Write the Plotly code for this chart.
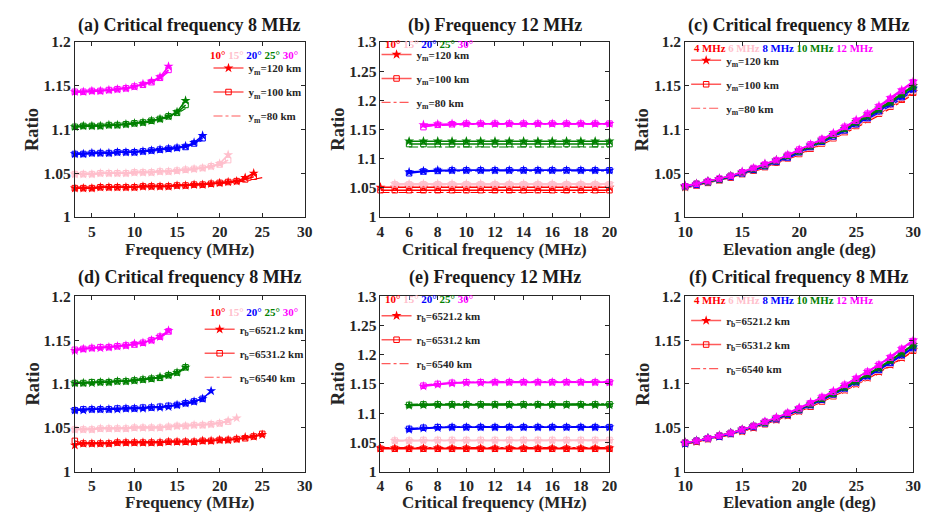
import plotly.graph_objects as go

# ---------------- data ----------------
FREQ = [3, 4, 5, 6, 7, 8, 9, 10, 11, 12, 13, 14, 15, 16, 17, 18, 19, 20, 21, 22, 23, 24, 25]
CRIT = [4, 5, 6, 7, 8, 9, 10, 11, 12, 13, 14, 15, 16, 17, 18, 19, 20]
ELEV = [10, 11, 12, 13, 14, 15, 16, 17, 18, 19, 20, 21, 22, 23, 24, 25, 26, 27, 28, 29, 30]

ANGLE_LABELS = ["10°", "15°", "20°", "25°", "30°"]
FREQ_LABELS = ["4 MHz", "6 MHz", "8 MHz", "10 MHz", "12 MHz"]
YM_LABELS = ["y<sub>m</sub>=120 km", "y<sub>m</sub>=100 km", "y<sub>m</sub>=80 km"]
RB_LABELS = ["r<sub>b</sub>=6521.2 km", "r<sub>b</sub>=6531.2 km", "r<sub>b</sub>=6540 km"]
TITLES = ["(a) Critical frequency 8 MHz", "(b) Frequency 12 MHz", "(c) Critical frequency 8 MHz",
          "(d) Critical frequency 8 MHz", "(e) Frequency 12 MHz", "(f) Critical frequency 8 MHz"]
XTITLES = ["Frequency (MHz)", "Critical frequency (MHz)", "Elevation angle (deg)"]

# panel (a): ratio vs frequency, start frequency 3 MHz
a10_120 = [1.033,1.033,1.033,1.034,1.034,1.034,1.034,1.034,1.035,1.035,1.035,1.035,1.036,1.036,1.037,1.037,1.038,1.039,1.040,1.041,1.045,1.050]
a10_100 = [1.033,1.033,1.033,1.034,1.034,1.034,1.034,1.034,1.035,1.035,1.035,1.035,1.036,1.036,1.037,1.037,1.038,1.039,1.040,1.041,1.043,1.046]
a10_80 = [1.033,1.033,1.033,1.033,1.034,1.034,1.034,1.034,1.034,1.035,1.035,1.035,1.036,1.036,1.036,1.037,1.038,1.038,1.039,1.040,1.041,1.043,1.045]
a15_120 = [1.049,1.049,1.049,1.050,1.050,1.050,1.050,1.051,1.051,1.051,1.052,1.052,1.053,1.054,1.055,1.056,1.058,1.061,1.071]
a15_100 = [1.049,1.049,1.049,1.050,1.050,1.050,1.050,1.051,1.051,1.051,1.052,1.052,1.053,1.054,1.055,1.056,1.058,1.060,1.065]
a15_80 = [1.049,1.049,1.049,1.049,1.050,1.050,1.050,1.050,1.051,1.051,1.051,1.052,1.053,1.053,1.054,1.056,1.057,1.059,1.063]
a20_120 = [1.072,1.072,1.073,1.073,1.073,1.074,1.074,1.074,1.075,1.076,1.077,1.078,1.079,1.081,1.085,1.093]
a20_100 = [1.072,1.072,1.073,1.073,1.073,1.074,1.074,1.074,1.075,1.076,1.077,1.078,1.079,1.080,1.084,1.090]
a20_80 = [1.072,1.072,1.072,1.073,1.073,1.073,1.074,1.074,1.075,1.075,1.076,1.077,1.078,1.080,1.083,1.088]
a25_120 = [1.103,1.104,1.104,1.104,1.105,1.105,1.106,1.107,1.108,1.110,1.112,1.115,1.120,1.133]
a25_100 = [1.103,1.104,1.104,1.104,1.105,1.105,1.106,1.107,1.108,1.110,1.112,1.115,1.119,1.128]
a25_80 = [1.103,1.103,1.104,1.104,1.104,1.105,1.106,1.106,1.107,1.109,1.111,1.114,1.118,1.124]
a30_120 = [1.143,1.143,1.144,1.144,1.145,1.146,1.147,1.149,1.152,1.155,1.160,1.172]
a30_100 = [1.143,1.143,1.144,1.144,1.145,1.146,1.147,1.149,1.151,1.154,1.159,1.168]
a30_80 = [1.142,1.143,1.143,1.144,1.145,1.145,1.147,1.148,1.151,1.154,1.158,1.166]

# panel (b): ratio vs critical frequency (starts 4, 5, 6, 6, 7 MHz)
b10_120 = [1.051,1.051,1.051,1.051,1.051,1.051,1.051,1.051,1.051,1.051,1.051,1.051,1.051,1.051,1.051,1.051,1.051]
b10_100 = [1.046,1.046,1.046,1.046,1.046,1.046,1.046,1.046,1.046,1.046,1.046,1.046,1.046,1.046,1.046,1.046,1.046]
b10_80 = [1.042,1.042,1.042,1.042,1.042,1.042,1.042,1.042,1.042,1.042,1.042,1.042,1.042,1.042,1.042,1.042,1.042]
b15_120 = [1.057,1.057,1.057,1.057,1.057,1.057,1.057,1.057,1.057,1.057,1.057,1.057,1.057,1.057,1.057,1.057]
b15_100 = [1.056,1.056,1.056,1.056,1.056,1.056,1.056,1.056,1.056,1.056,1.056,1.056,1.056,1.056,1.056,1.056]
b15_80 = [1.055,1.055,1.055,1.055,1.055,1.055,1.055,1.055,1.055,1.055,1.055,1.055,1.055,1.055,1.055,1.055]
b20_120 = [1.077,1.079,1.080,1.080,1.080,1.080,1.080,1.080,1.080,1.080,1.080,1.080,1.080,1.080,1.080]
b20_100 = [1.075,1.078,1.079,1.080,1.080,1.080,1.080,1.080,1.080,1.080,1.080,1.080,1.080,1.080,1.080]
b20_80 = [1.076,1.078,1.079,1.079,1.079,1.079,1.079,1.079,1.079,1.079,1.079,1.079,1.079,1.079,1.079]
b25_120 = [1.130,1.130,1.130,1.130,1.130,1.130,1.130,1.130,1.130,1.130,1.130,1.130,1.130,1.130,1.130]
b25_100 = [1.125,1.125,1.125,1.125,1.125,1.125,1.125,1.125,1.125,1.125,1.125,1.125,1.125,1.125,1.125]
b25_80 = [1.120,1.120,1.120,1.120,1.120,1.120,1.120,1.120,1.120,1.120,1.120,1.120,1.120,1.120,1.120]
b30_120 = [1.158,1.159,1.160,1.160,1.160,1.160,1.160,1.160,1.160,1.160,1.160,1.160,1.160,1.160]
b30_100 = [1.154,1.158,1.159,1.160,1.160,1.160,1.160,1.160,1.160,1.160,1.160,1.160,1.160,1.160]
b30_80 = [1.156,1.157,1.158,1.159,1.159,1.159,1.159,1.159,1.159,1.159,1.159,1.159,1.159,1.159]

# panel (c): ratio vs elevation angle for five frequencies
c4_120 = [1.034,1.037,1.040,1.043,1.046,1.050,1.054,1.058,1.063,1.068,1.073,1.079,1.085,1.091,1.098,1.105,1.112,1.119,1.127,1.135,1.143]
c4_100 = [1.034,1.036,1.039,1.042,1.045,1.049,1.053,1.057,1.062,1.067,1.072,1.078,1.084,1.090,1.097,1.104,1.111,1.118,1.126,1.134,1.142]
c4_80 = [1.033,1.036,1.039,1.042,1.045,1.048,1.052,1.056,1.061,1.066,1.071,1.077,1.083,1.089,1.096,1.102,1.109,1.116,1.124,1.132,1.140]
c6_120 = [1.035,1.037,1.040,1.043,1.046,1.050,1.054,1.059,1.063,1.068,1.074,1.080,1.086,1.092,1.099,1.106,1.113,1.120,1.128,1.137,1.145]
c6_100 = [1.034,1.037,1.040,1.043,1.046,1.050,1.054,1.058,1.063,1.068,1.073,1.079,1.085,1.091,1.098,1.105,1.112,1.119,1.127,1.136,1.144]
c6_80 = [1.034,1.036,1.039,1.042,1.045,1.049,1.053,1.057,1.062,1.067,1.072,1.078,1.084,1.090,1.097,1.104,1.111,1.118,1.126,1.134,1.142]
c8_120 = [1.035,1.037,1.040,1.043,1.046,1.050,1.054,1.059,1.064,1.069,1.075,1.081,1.087,1.093,1.100,1.107,1.114,1.122,1.130,1.138,1.147]
c8_100 = [1.035,1.037,1.040,1.043,1.046,1.050,1.054,1.058,1.063,1.068,1.074,1.080,1.086,1.092,1.099,1.106,1.113,1.121,1.129,1.137,1.146]
c8_80 = [1.034,1.037,1.040,1.042,1.046,1.049,1.053,1.058,1.062,1.067,1.073,1.079,1.085,1.091,1.098,1.105,1.112,1.119,1.127,1.135,1.144]
c10_120 = [1.035,1.038,1.041,1.044,1.047,1.051,1.055,1.060,1.065,1.070,1.076,1.082,1.088,1.094,1.101,1.109,1.116,1.124,1.132,1.141,1.150]
c10_100 = [1.035,1.038,1.040,1.043,1.047,1.051,1.055,1.059,1.064,1.070,1.075,1.081,1.087,1.094,1.101,1.108,1.115,1.123,1.131,1.140,1.149]
c10_80 = [1.035,1.037,1.040,1.043,1.046,1.050,1.054,1.059,1.064,1.069,1.075,1.080,1.086,1.093,1.100,1.107,1.114,1.122,1.130,1.139,1.147]
c12_120 = [1.036,1.038,1.041,1.044,1.047,1.052,1.056,1.061,1.065,1.071,1.077,1.083,1.089,1.096,1.103,1.111,1.118,1.127,1.136,1.145,1.155]
c12_100 = [1.035,1.038,1.041,1.044,1.047,1.051,1.056,1.060,1.065,1.071,1.077,1.083,1.089,1.095,1.103,1.110,1.118,1.126,1.135,1.144,1.154]
c12_80 = [1.035,1.038,1.041,1.044,1.047,1.051,1.055,1.060,1.065,1.070,1.076,1.082,1.088,1.095,1.102,1.109,1.117,1.125,1.134,1.143,1.152]

# panel (d): ratio vs frequency, three base radii
d10_a = [1.030,1.032,1.032,1.032,1.032,1.033,1.033,1.033,1.033,1.033,1.033,1.034,1.034,1.034,1.034,1.035,1.035,1.036,1.036,1.037,1.039,1.040,1.042]
d10_b = [1.035,1.032,1.032,1.032,1.032,1.033,1.033,1.033,1.033,1.033,1.033,1.034,1.034,1.034,1.034,1.035,1.035,1.036,1.036,1.037,1.038,1.040,1.043]
d10_c = [1.032,1.032,1.032,1.032,1.033,1.033,1.033,1.033,1.033,1.033,1.034,1.034,1.034,1.034,1.035,1.035,1.035,1.036,1.036,1.037,1.038,1.040,1.042]
d15_a = [1.048,1.048,1.048,1.049,1.049,1.049,1.049,1.050,1.050,1.050,1.050,1.051,1.052,1.052,1.053,1.053,1.054,1.055,1.058,1.061]
d15_b = [1.048,1.048,1.048,1.049,1.049,1.049,1.049,1.050,1.050,1.050,1.050,1.051,1.052,1.052,1.053,1.053,1.054,1.055,1.057]
d15_c = [1.048,1.048,1.049,1.049,1.049,1.049,1.050,1.050,1.050,1.050,1.051,1.051,1.052,1.052,1.053,1.054,1.054,1.056,1.057]
d20_a = [1.070,1.070,1.071,1.071,1.071,1.071,1.072,1.072,1.072,1.073,1.073,1.074,1.076,1.078,1.080,1.083,1.092]
d20_b = [1.070,1.071,1.071,1.071,1.071,1.072,1.072,1.072,1.073,1.073,1.074,1.075,1.076,1.078,1.080,1.083]
d20_c = [1.071,1.071,1.071,1.071,1.072,1.072,1.072,1.073,1.073,1.073,1.074,1.075,1.076,1.077,1.079,1.082]
d25_a = [1.101,1.101,1.101,1.102,1.102,1.103,1.103,1.104,1.105,1.106,1.108,1.110,1.113,1.119]
d25_b = [1.101,1.101,1.102,1.102,1.102,1.103,1.103,1.104,1.105,1.106,1.107,1.110,1.113,1.119]
d25_c = [1.101,1.101,1.102,1.102,1.103,1.103,1.104,1.104,1.105,1.106,1.107,1.109,1.112,1.118]
d30_a = [1.138,1.140,1.141,1.141,1.142,1.143,1.144,1.146,1.147,1.150,1.154,1.161]
d30_b = [1.139,1.140,1.141,1.142,1.142,1.143,1.144,1.145,1.147,1.150,1.154,1.160]
d30_c = [1.140,1.140,1.141,1.142,1.143,1.143,1.144,1.146,1.147,1.150,1.153,1.159]

# panel (e): ratio vs critical frequency, three base radii
e10_a = [1.040,1.040,1.040,1.040,1.040,1.040,1.040,1.040,1.040,1.040,1.040,1.040,1.040,1.040,1.040,1.040,1.040]
e10_b = [1.039,1.039,1.039,1.039,1.039,1.039,1.039,1.039,1.039,1.039,1.039,1.039,1.039,1.039,1.039,1.039,1.039]
e10_c = [1.041,1.041,1.041,1.041,1.041,1.041,1.041,1.041,1.041,1.041,1.041,1.041,1.041,1.041,1.041,1.041,1.041]
e15_a = [1.053,1.053,1.053,1.053,1.053,1.053,1.053,1.053,1.053,1.053,1.053,1.053,1.053,1.053,1.053,1.053]
e15_b = [1.053,1.053,1.054,1.054,1.054,1.054,1.054,1.054,1.054,1.054,1.054,1.054,1.054,1.054,1.054,1.054]
e15_c = [1.052,1.053,1.053,1.053,1.053,1.053,1.053,1.053,1.053,1.053,1.053,1.053,1.053,1.053,1.053,1.053]
e20_a = [1.072,1.074,1.075,1.076,1.076,1.076,1.076,1.076,1.076,1.076,1.076,1.076,1.076,1.076,1.076]
e20_b = [1.073,1.075,1.076,1.076,1.076,1.076,1.076,1.076,1.076,1.076,1.076,1.076,1.076,1.076,1.076]
e20_c = [1.074,1.075,1.076,1.077,1.077,1.077,1.077,1.077,1.077,1.077,1.077,1.077,1.077,1.077,1.077]
e25_a = [1.113,1.114,1.114,1.114,1.114,1.114,1.114,1.114,1.114,1.114,1.114,1.114,1.114,1.114,1.114]
e25_b = [1.114,1.115,1.115,1.115,1.115,1.115,1.115,1.115,1.115,1.115,1.115,1.115,1.115,1.115,1.115]
e25_c = [1.115,1.116,1.116,1.116,1.116,1.116,1.116,1.116,1.116,1.116,1.116,1.116,1.116,1.116,1.116]
e30_a = [1.146,1.149,1.151,1.152,1.152,1.153,1.153,1.153,1.153,1.153,1.153,1.153,1.153,1.153]
e30_b = [1.147,1.150,1.152,1.153,1.153,1.153,1.153,1.153,1.153,1.153,1.153,1.153,1.153,1.153]
e30_c = [1.148,1.151,1.152,1.153,1.154,1.154,1.154,1.154,1.154,1.154,1.154,1.154,1.154,1.154]

# panel (f): ratio vs elevation angle, three base radii
f4_a = [1.032,1.034,1.037,1.040,1.043,1.046,1.050,1.055,1.059,1.064,1.069,1.075,1.081,1.087,1.093,1.100,1.107,1.114,1.122,1.130,1.139]
f4_b = [1.032,1.034,1.037,1.040,1.043,1.046,1.050,1.054,1.059,1.064,1.069,1.074,1.080,1.086,1.093,1.100,1.107,1.114,1.122,1.130,1.138]
f4_c = [1.031,1.034,1.036,1.039,1.042,1.046,1.050,1.054,1.058,1.063,1.068,1.074,1.080,1.086,1.092,1.099,1.106,1.113,1.121,1.129,1.137]
f6_a = [1.032,1.035,1.037,1.040,1.043,1.047,1.051,1.055,1.060,1.065,1.070,1.076,1.082,1.088,1.094,1.101,1.108,1.116,1.124,1.132,1.140]
f6_b = [1.032,1.035,1.037,1.040,1.043,1.047,1.051,1.055,1.060,1.065,1.070,1.075,1.081,1.087,1.094,1.101,1.108,1.115,1.123,1.131,1.140]
f6_c = [1.032,1.034,1.037,1.040,1.043,1.046,1.050,1.055,1.059,1.064,1.069,1.075,1.081,1.087,1.093,1.100,1.107,1.115,1.123,1.131,1.139]
f8_a = [1.032,1.035,1.038,1.040,1.044,1.047,1.051,1.056,1.060,1.065,1.071,1.076,1.082,1.089,1.095,1.102,1.109,1.117,1.125,1.133,1.142]
f8_b = [1.032,1.035,1.038,1.040,1.043,1.047,1.051,1.055,1.060,1.065,1.070,1.076,1.082,1.088,1.095,1.102,1.109,1.116,1.124,1.133,1.141]
f8_c = [1.032,1.034,1.037,1.040,1.043,1.047,1.051,1.055,1.060,1.065,1.070,1.076,1.081,1.088,1.094,1.101,1.108,1.116,1.124,1.132,1.141]
f10_a = [1.033,1.035,1.038,1.041,1.044,1.048,1.052,1.056,1.061,1.066,1.072,1.077,1.083,1.090,1.097,1.104,1.111,1.119,1.127,1.136,1.145]
f10_b = [1.033,1.035,1.038,1.041,1.044,1.048,1.052,1.056,1.061,1.066,1.071,1.077,1.083,1.089,1.096,1.103,1.111,1.118,1.127,1.135,1.144]
f10_c = [1.032,1.035,1.038,1.041,1.044,1.047,1.051,1.056,1.061,1.066,1.071,1.077,1.083,1.089,1.096,1.103,1.110,1.118,1.126,1.135,1.144]
f12_a = [1.033,1.035,1.038,1.041,1.044,1.048,1.052,1.057,1.062,1.067,1.073,1.079,1.085,1.092,1.099,1.107,1.114,1.122,1.131,1.140,1.150]
f12_b = [1.033,1.035,1.038,1.041,1.044,1.048,1.052,1.057,1.061,1.067,1.072,1.078,1.085,1.091,1.099,1.106,1.114,1.122,1.130,1.140,1.149]
f12_c = [1.033,1.035,1.038,1.041,1.044,1.048,1.052,1.056,1.061,1.066,1.072,1.078,1.084,1.091,1.098,1.105,1.113,1.121,1.130,1.139,1.148]

# ---------------- styling ----------------
W, H = 931, 525
FONT = "Times New Roman, Liberation Serif, DejaVu Serif, serif"
TXT = "#262626"
COLORS = ["#ff0000", "#ffbfcc", "#0000ff", "#008000", "#ff00ff"]
X_DOM = [(68, 302), (379, 612), (689, 921)]
Y_DOM = [(34, 215), (297, 478)]


def px(x):
    return x / W


def py(y):
    return 1 - y / H


PANELS = [
    (FREQ, [3, 3, 3, 3, 3], [[a10_120, a10_100, a10_80], [a15_120, a15_100, a15_80], [a20_120, a20_100, a20_80],
                             [a25_120, a25_100, a25_80], [a30_120, a30_100, a30_80]]),
    (CRIT, [4, 5, 6, 6, 7], [[b10_120, b10_100, b10_80], [b15_120, b15_100, b15_80], [b20_120, b20_100, b20_80],
                             [b25_120, b25_100, b25_80], [b30_120, b30_100, b30_80]]),
    (ELEV, [10, 10, 10, 10, 10], [[c4_120, c4_100, c4_80], [c6_120, c6_100, c6_80], [c8_120, c8_100, c8_80],
                                  [c10_120, c10_100, c10_80], [c12_120, c12_100, c12_80]]),
    (FREQ, [3, 3, 3, 3, 3], [[d10_a, d10_b, d10_c], [d15_a, d15_b, d15_c], [d20_a, d20_b, d20_c],
                             [d25_a, d25_b, d25_c], [d30_a, d30_b, d30_c]]),
    (CRIT, [4, 5, 6, 6, 7], [[e10_a, e10_b, e10_c], [e15_a, e15_b, e15_c], [e20_a, e20_b, e20_c],
                             [e25_a, e25_b, e25_c], [e30_a, e30_b, e30_c]]),
    (ELEV, [10, 10, 10, 10, 10], [[f4_a, f4_b, f4_c], [f6_a, f6_b, f6_c], [f8_a, f8_b, f8_c],
                                  [f10_a, f10_b, f10_c], [f12_a, f12_b, f12_c]]),
]

X_RANGES = [[3, 30], [4, 20], [10, 30]]
X_TICKS = [[5, 10, 15, 20, 25, 30], [4, 6, 8, 10, 12, 14, 16, 18, 20], [10, 15, 20, 25, 30]]
Y_RANGES = [[1, 1.2], [1, 1.3], [1, 1.2]]
Y_TICKS = [[1, 1.05, 1.1, 1.15, 1.2], [1, 1.05, 1.1, 1.15, 1.2, 1.25, 1.3], [1, 1.05, 1.1, 1.15, 1.2]]
Y_TEXT = [["1", "1.05", "1.1", "1.15", "1.2"], ["1", "1.05", "1.1", "1.15", "1.2", "1.25", "1.3"],
          ["1", "1.05", "1.1", "1.15", "1.2"]]

STYLES = [
    dict(mode="lines+markers", line=dict(width=1.5), marker=dict(symbol="star", size=7.5)),
    dict(mode="lines+markers", line=dict(width=1.5), marker=dict(symbol="square-open", size=5.5, line=dict(width=1))),
    dict(mode="lines", line=dict(width=1.2, dash="dashdot")),
]

fig = go.Figure()

for p, (grid, starts, groups) in enumerate(PANELS):
    ax = "" if p == 0 else str(p + 1)
    for ci, variants in enumerate(groups):
        for vi, ys in enumerate(variants):
            i0 = grid.index(starts[ci])
            xs = grid[i0:i0 + len(ys)]
            st = STYLES[vi]
            line = dict(st["line"], color=COLORS[ci])
            kw = dict(x=xs, y=ys, mode=st["mode"], line=line, showlegend=False,
                      xaxis="x" + ax, yaxis="y" + ax, cliponaxis=False, hoverinfo="skip")
            if "marker" in st:
                m = dict(st["marker"], color=COLORS[ci])
                if "line" in m:
                    m["line"] = dict(m["line"], color=COLORS[ci])
                kw["marker"] = m
            fig.add_trace(go.Scatter(**kw))

    labels = YM_LABELS if p < 3 else RB_LABELS
    lg = "legend" if p == 0 else "legend" + str(p + 1)
    for vi, lab in enumerate(labels):
        st = STYLES[vi]
        line = dict(st["line"], color="#ff5a5a")
        kw = dict(x=[None], y=[None], mode=st["mode"], line=line, name=lab, legend=lg,
                  legendgroup=f"g{p}_{vi}", xaxis="x" + ax, yaxis="y" + ax, showlegend=True)
        if "marker" in st:
            m = dict(st["marker"], color="#ff0000")
            if "line" in m:
                m["line"] = dict(m["line"], color="#ff0000")
            kw["marker"] = m
        fig.add_trace(go.Scatter(**kw))

axis_common = dict(showline=True, linecolor=TXT, linewidth=1, mirror="allticks", ticks="inside",
                   ticklen=4, tickcolor=TXT, showgrid=False, zeroline=False,
                   tickfont=dict(family=FONT, size=15.5, color=TXT, weight="bold"))

layout = dict(width=W, height=H, margin=dict(l=0, r=0, t=0, b=0), plot_bgcolor="white",
              paper_bgcolor="white", font=dict(family=FONT, color=TXT))

LEG_POS = [(204, 46), (375, 32), (690, 38), (195, 316), (375, 302), (690, 307)]
annotations = []
for p in range(6):
    col, row = p % 3, p // 3
    ax = "" if p == 0 else str(p + 1)
    layout["xaxis" + ax] = dict(axis_common, domain=[px(X_DOM[col][0]), px(X_DOM[col][1])],
                                range=X_RANGES[col], tickvals=X_TICKS[col], anchor="y" + ax)
    layout["yaxis" + ax] = dict(axis_common, domain=[py(Y_DOM[row][1]), py(Y_DOM[row][0])],
                                range=Y_RANGES[col], tickvals=Y_TICKS[col], ticktext=Y_TEXT[col],
                                anchor="x" + ax)
    lx, ly = LEG_POS[p]
    layout["legend" if p == 0 else "legend" + str(p + 1)] = dict(
        x=px(lx), y=py(ly), xanchor="left", yanchor="top", bgcolor="rgba(0,0,0,0)",
        font=dict(family=FONT, size=11, color=TXT, weight="bold"), tracegroupgap=5, itemwidth=30)

    xc = (X_DOM[col][0] + X_DOM[col][1]) / 2
    yc = (Y_DOM[row][0] + Y_DOM[row][1]) / 2
    annotations.append(dict(text="<b>" + TITLES[p] + "</b>", x=px(xc), y=py(17 + row * 261),
                            xref="paper", yref="paper", showarrow=False, xanchor="center", yanchor="middle",
                            font=dict(family=FONT, size=18, color="#1a1a1a")))
    annotations.append(dict(text="<b>" + XTITLES[col] + "</b>", x=px(xc), y=py(249 + row * 261),
                            xref="paper", yref="paper", showarrow=False, xanchor="center", yanchor="middle",
                            font=dict(family=FONT, size=17, color=TXT)))
    annotations.append(dict(text="<b>Ratio</b>", x=px(X_DOM[col][0] - 43), y=py(yc),
                            xref="paper", yref="paper", showarrow=False, textangle=-90,
                            xanchor="center", yanchor="middle", font=dict(family=FONT, size=18.5, color=TXT)))
    labs = ANGLE_LABELS if col < 2 else FREQ_LABELS
    txt = " ".join(f"<span style='color:{COLORS[i]}'>{labs[i]}</span>" for i in range(5))
    if col == 0:
        ax_x, anc = 297, "right"
        ay = 48 if row == 0 else 313
    elif col == 1:
        ax_x, anc = 382, "left"
        ay = 36 if row == 0 else 300
    else:
        ax_x, anc = 696, "left"
        ay = 40 if row == 0 else 301
    annotations.append(dict(text="<b>" + txt + "</b>", x=px(ax_x), y=py(ay), xref="paper", yref="paper",
                            showarrow=False, xanchor=anc, yanchor="middle",
                            font=dict(family=FONT, size=11 if col < 2 else 10.8)))

layout["annotations"] = annotations
fig.update_layout(**layout)
fig.write_html("out.html")
